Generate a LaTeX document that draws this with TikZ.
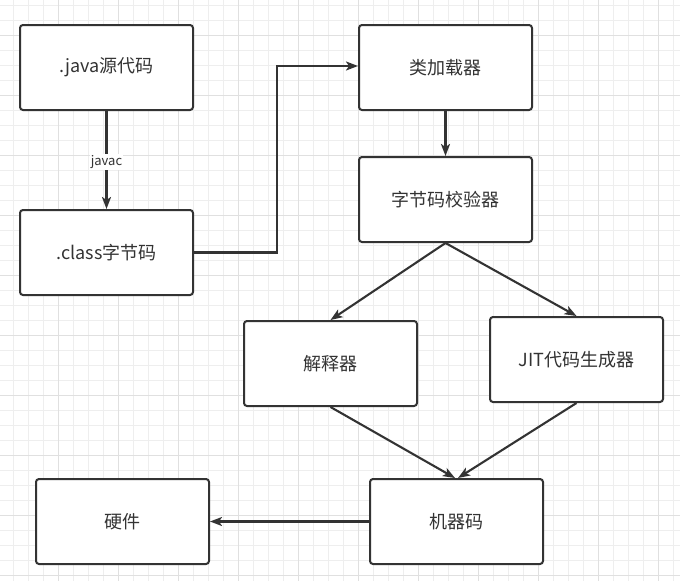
\documentclass[tikz,border=0pt]{standalone}
\usepackage{fontspec}
\setmainfont{Noto Sans CJK SC}
\usetikzlibrary{arrows.meta}
\definecolor{txt}{HTML}{333333}
\definecolor{edge}{HTML}{333333}
\definecolor{gminor}{HTML}{EEEEEE}
\definecolor{gmajor}{HTML}{E0E0E0}
\tikzset{
  box/.style={draw=edge, line width=2pt, rounded corners=3pt, fill=white,
    minimum width=173pt, minimum height=85pt, inner sep=0pt, text=txt,
    font=\fontsize{18}{22}\selectfont},
  arr/.style={draw=edge, line width=2.1pt, -{Stealth[length=12pt,width=9pt,inset=3pt]}},
  lbl/.style={fill=white, inner sep=1pt, text=txt, font=\fontsize{13}{15}\selectfont},
  gridminor/.style={draw=gminor, line width=1pt},
  gridmajor/.style={draw=gmajor, line width=1pt}
}
\begin{document}
\begin{tikzpicture}[x=1pt, y=-1pt]
\useasboundingbox (0,0) rectangle (680,581);
\fill[white] (0,0) rectangle (680,581);
% grid
\foreach \i in {0,...,45} {
  \draw[gridminor] ({13.33+15*\i},0) -- ({13.33+15*\i},581);
}
\foreach \i in {0,...,39} {
  \draw[gridminor] (0,{5+15*\i}) -- (680,{5+15*\i});
}
\foreach \i in {0,...,11} {
  \draw[gridmajor] ({58.33+60*\i},0) -- ({58.33+60*\i},581);
}
\foreach \i in {0,...,9} {
  \draw[gridmajor] (0,{35+60*\i}) -- (680,{35+60*\i});
}
% nodes
\node[box] (java) at (106.5,67.5) {.java源代码};
\node[box] (class) at (106.5,252.5) {.class字节码};
\node[box] (loader) at (445.5,67.5) {类加载器};
\node[box] (verify) at (445.5,199.5) {字节码校验器};
\node[box] (interp) at (330.5,363.5) {解释器};
\node[box] (jit) at (576.5,359.5) {JIT代码生成器};
\node[box] (hw) at (122.5,521.5) {硬件};
\node[box] (mc) at (456.5,521.5) {机器码};
% edges
\draw[arr] (java.south) -- node[lbl, pos=0.52] {javac} (class.north);
\draw[arr] (class.east) -- ++(83,0) |- ([yshift=1.5pt]loader.west);
\draw[arr] (loader.south) -- (verify.north);
\draw[arr] (verify.south) -- (interp.north);
\draw[arr] (verify.south) -- (jit.north);
\draw[arr] (interp.south) -- ([xshift=-1.5pt]mc.north);
\draw[arr] (jit.south) -- ([xshift=1.5pt]mc.north);
\draw[arr] (mc.west) -- (hw.east);
\end{tikzpicture}
\end{document}
